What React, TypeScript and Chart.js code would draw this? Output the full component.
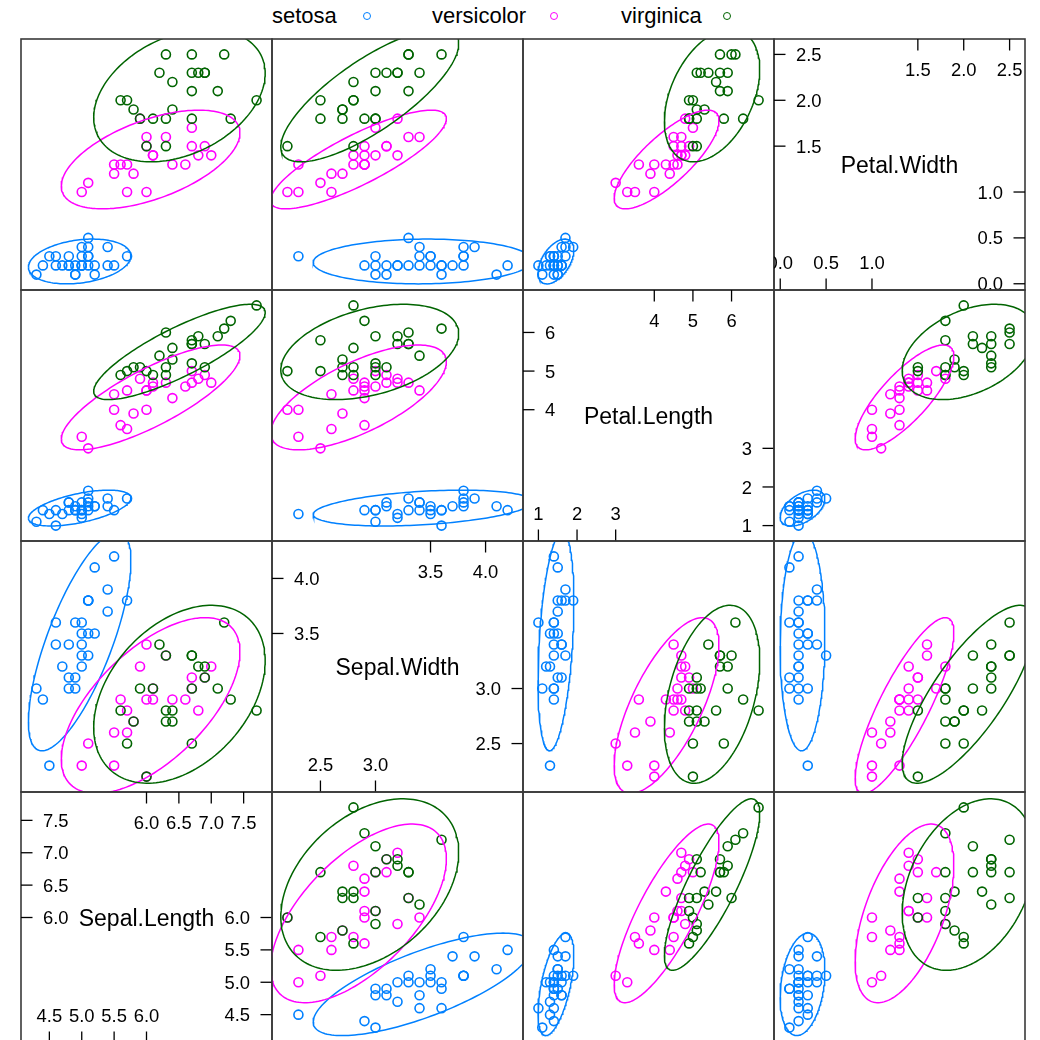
import React, { useEffect, useRef } from "react";
import { Chart, registerables } from "chart.js";

Chart.register(...registerables);

// ---------------- data ----------------
const speciesNames = ["setosa", "versicolor", "virginica"];
const speciesColors = ["#0080ff", "#ff00ff", "#006400"];
const variableNames = ["Sepal.Length", "Sepal.Width", "Petal.Length", "Petal.Width"];

const setosaSepalLength = [4.9, 4.7, 5.0, 5.4, 4.6, 4.4, 4.9, 5.4, 4.8, 4.3, 5.1, 5.7, 5.1, 4.6, 5.1, 5.0, 5.2, 4.8, 5.2, 5.5, 5.0, 4.9, 5.0, 4.5, 5.1, 4.8, 5.1, 5.0];
const setosaSepalWidth = [3.0, 3.2, 3.6, 3.9, 3.4, 2.9, 3.1, 3.7, 3.4, 3.0, 3.5, 3.8, 3.8, 3.6, 3.3, 3.4, 3.5, 3.1, 4.1, 4.2, 3.2, 3.6, 3.5, 2.3, 3.8, 3.0, 3.8, 3.3];
const setosaPetalLength = [1.4, 1.3, 1.4, 1.7, 1.4, 1.4, 1.5, 1.5, 1.6, 1.1, 1.4, 1.7, 1.5, 1.0, 1.7, 1.6, 1.5, 1.6, 1.5, 1.4, 1.2, 1.4, 1.3, 1.3, 1.9, 1.4, 1.6, 1.4];
const setosaPetalWidth = [0.2, 0.2, 0.2, 0.4, 0.3, 0.2, 0.1, 0.2, 0.2, 0.1, 0.3, 0.3, 0.3, 0.2, 0.5, 0.4, 0.2, 0.2, 0.1, 0.2, 0.2, 0.1, 0.3, 0.3, 0.4, 0.3, 0.2, 0.2];

const versicolorSepalLength = [7.0, 6.9, 5.5, 5.7, 6.3, 6.6, 6.0, 6.1, 5.6, 5.9, 6.4, 6.8, 6.7, 6.0, 5.7, 5.8, 6.0, 6.7, 5.5, 6.1, 5.0, 5.1];
const versicolorSepalWidth = [3.2, 3.1, 2.3, 2.8, 3.3, 2.9, 2.2, 2.9, 2.9, 3.2, 2.9, 2.8, 3.0, 2.9, 2.6, 2.7, 3.4, 3.1, 2.6, 3.0, 2.3, 2.5];
const versicolorPetalLength = [4.7, 4.9, 4.0, 4.5, 4.7, 4.6, 4.0, 4.7, 3.6, 4.8, 4.3, 4.8, 5.0, 4.5, 3.5, 3.9, 4.5, 4.7, 4.4, 4.6, 3.3, 3.0];
const versicolorPetalWidth = [1.4, 1.5, 1.3, 1.3, 1.6, 1.3, 1.0, 1.4, 1.3, 1.8, 1.3, 1.4, 1.7, 1.5, 1.0, 1.2, 1.6, 1.5, 1.2, 1.4, 1.0, 1.1];

const virginicaSepalLength = [6.3, 5.8, 7.1, 7.3, 6.7, 7.2, 6.4, 5.7, 6.0, 6.9, 5.6, 7.7, 6.3, 6.7, 6.1, 6.4, 6.3, 6.9, 6.8, 6.7, 6.7, 6.2, 5.9];
const virginicaSepalWidth = [3.3, 2.7, 3.0, 2.9, 2.5, 3.6, 2.7, 2.5, 2.2, 3.2, 2.8, 2.8, 2.7, 3.3, 3.0, 2.8, 2.8, 3.1, 3.2, 3.3, 3.0, 3.4, 3.0];
const virginicaPetalLength = [6.0, 5.1, 5.9, 6.3, 5.8, 6.1, 5.3, 5.0, 5.0, 5.7, 4.9, 6.7, 4.9, 5.7, 4.9, 5.6, 5.1, 5.1, 5.9, 5.7, 5.2, 5.4, 5.1];
const virginicaPetalWidth = [2.5, 1.9, 2.1, 1.8, 1.8, 2.5, 1.9, 2.0, 1.5, 2.3, 2.0, 2.0, 1.8, 2.1, 1.8, 2.2, 1.5, 2.3, 2.3, 2.5, 2.3, 2.3, 1.8];

// diagonal-panel tick labels (lower half: bottom/right, upper half: top/left)
const sepalLengthTicksLower = ["4.5", "5.0", "5.5", "6.0"];
const sepalLengthTicksUpper = ["6.0", "6.5", "7.0", "7.5"];
const sepalWidthTicksLower = ["2.5", "3.0"];
const sepalWidthTicksUpper = ["3.5", "4.0"];
const petalLengthTicksLower = ["1", "2", "3"];
const petalLengthTicksUpper = ["4", "5", "6"];
const petalWidthTicksLower = ["0.0", "0.5", "1.0"];
const petalWidthTicksUpper = ["1.5", "2.0", "2.5"];

// ---------------- derived tables ----------------
const sepalLength = [setosaSepalLength, versicolorSepalLength, virginicaSepalLength];
const sepalWidth = [setosaSepalWidth, versicolorSepalWidth, virginicaSepalWidth];
const petalLength = [setosaPetalLength, versicolorPetalLength, virginicaPetalLength];
const petalWidth = [setosaPetalWidth, versicolorPetalWidth, virginicaPetalWidth];
const variables = [sepalLength, sepalWidth, petalLength, petalWidth];
const ticksLower = [sepalLengthTicksLower, sepalWidthTicksLower, petalLengthTicksLower, petalWidthTicksLower];
const ticksUpper = [sepalLengthTicksUpper, sepalWidthTicksUpper, petalLengthTicksUpper, petalWidthTicksUpper];

const columnVars = [0, 1, 2, 3];
const rowVars = [3, 2, 1, 0];

// ---------------- layout ----------------
const PANEL = 251;
const LEFT = 21;
const TOP = 39;
const PAD = 3;
const TICK = 11.5;
const FONT = '"Liberation Sans", Arial, Helvetica, sans-serif';
const NAME_SIZE = 23;
const TICK_SIZE = 18.4;

function limits(v: number): [number, number] {
  const all = variables[v].flat();
  const mn = Math.min(...all);
  const mx = Math.max(...all);
  const p = 0.07 * (mx - mn);
  return [mn - p, mx + p];
}

function ellipsePoints(xs: number[], ys: number[]) {
  const n = xs.length;
  const mx = xs.reduce((s, v) => s + v, 0) / n;
  const my = ys.reduce((s, v) => s + v, 0) / n;
  let sxx = 0, syy = 0, sxy = 0;
  for (let i = 0; i < n; i++) {
    const dx = xs[i] - mx, dy = ys[i] - my;
    sxx += dx * dx; syy += dy * dy; sxy += dx * dy;
  }
  sxx /= n - 1; syy /= n - 1; sxy /= n - 1;
  const a = Math.sqrt(sxx);
  const b = sxy / a;
  const c = Math.sqrt(Math.max(syy - b * b, 0));
  const R = Math.sqrt(5.991464547); // 95% level
  const pts: { x: number; y: number }[] = [];
  const seg = 160;
  for (let k = 0; k <= seg; k++) {
    const t = -Math.PI + (2 * Math.PI * k) / seg;
    const u = Math.cos(t), w = Math.sin(t);
    pts.push({ x: mx + R * u * a, y: my + R * (u * b + w * c) });
  }
  return pts;
}

const borderPlugin = {
  id: "panelBorder",
  afterDraw(chart: any) {
    const { ctx, chartArea: a } = chart;
    ctx.save();
    ctx.strokeStyle = "#3a3a3a";
    ctx.lineWidth = 1.6;
    ctx.strokeRect(a.left, a.top, a.right - a.left, a.bottom - a.top);
    ctx.restore();
  },
};

function diagPlugin(v: number) {
  return {
    id: "diagLabels",
    afterDraw(chart: any) {
      const { ctx, chartArea: a, scales } = chart;
      const xs = scales.x, ys = scales.y;
      ctx.save();
      ctx.beginPath();
      ctx.rect(a.left, a.top, a.right - a.left, a.bottom - a.top);
      ctx.clip();
      ctx.fillStyle = "#000";
      ctx.strokeStyle = "#000";
      ctx.lineWidth = 1.3;
      ctx.textBaseline = "alphabetic";
      ctx.font = `${NAME_SIZE}px ${FONT}`;
      ctx.textAlign = "center";
      ctx.fillText(variableNames[v], (a.left + a.right) / 2, (a.top + a.bottom) / 2 + NAME_SIZE * 0.36);
      ctx.font = `${TICK_SIZE}px ${FONT}`;
      const half = TICK_SIZE * 0.358;
      const line = (x1: number, y1: number, x2: number, y2: number) => {
        ctx.beginPath(); ctx.moveTo(x1, y1); ctx.lineTo(x2, y2); ctx.stroke();
      };
      for (const t of ticksLower[v]) {
        const val = parseFloat(t);
        const px = xs.getPixelForValue(val);
        const py = ys.getPixelForValue(val);
        line(px, a.bottom, px, a.bottom - TICK);
        ctx.textAlign = "center";
        ctx.fillText(t, px, a.bottom - 28 + half);
        line(a.right, py, a.right - TICK, py);
        ctx.textAlign = "right";
        ctx.fillText(t, a.right - 22, py + half);
      }
      for (const t of ticksUpper[v]) {
        const val = parseFloat(t);
        const px = xs.getPixelForValue(val);
        const py = ys.getPixelForValue(val);
        line(px, a.top, px, a.top + TICK);
        ctx.textAlign = "center";
        ctx.fillText(t, px, a.top + 30 + half);
        line(a.left, py, a.left + TICK, py);
        ctx.textAlign = "left";
        ctx.fillText(t, a.left + 22, py + half);
      }
      ctx.restore();
    },
  };
}

function Panel({ row, col }: { row: number; col: number }) {
  const ref = useRef<HTMLCanvasElement>(null);
  const xv = columnVars[col];
  const yv = rowVars[row];
  const size = PANEL + 2 * PAD;
  useEffect(() => {
    if (!ref.current) return;
    const diag = xv === yv;
    const datasets: any[] = [];
    if (!diag) {
      for (let s = 0; s < speciesNames.length; s++) {
        const xs = variables[xv][s];
        const ys = variables[yv][s];
        datasets.push({
          label: speciesNames[s] + " ellipse",
          data: ellipsePoints(xs, ys),
          showLine: true,
          borderColor: speciesColors[s],
          borderWidth: 1.5,
          pointRadius: 0,
          fill: false,
          tension: 0,
          clip: 0,
          order: 2 - s,
        });
        datasets.push({
          label: speciesNames[s],
          data: xs.map((x, i) => ({ x, y: ys[i] })),
          showLine: false,
          pointStyle: "circle",
          pointRadius: 4.5,
          pointBorderWidth: 1.6,
          borderWidth: 1.6,
          borderColor: speciesColors[s],
          backgroundColor: "rgba(0,0,0,0)",
          pointBackgroundColor: "rgba(0,0,0,0)",
          clip: 0,
          order: 5 - s,
        });
      }
    }
    const [x0, x1] = limits(xv);
    const [y0, y1] = limits(yv);
    const plugins: any[] = [borderPlugin];
    if (diag) plugins.push(diagPlugin(xv));
    const chart = new Chart(ref.current, {
      type: "scatter",
      data: { datasets },
      options: {
        animation: false,
        responsive: false,
        maintainAspectRatio: false,
        devicePixelRatio: 1,
        events: [],
        layout: { padding: PAD, autoPadding: false },
        plugins: { legend: { display: false }, tooltip: { enabled: false } },
        scales: {
          x: { type: "linear", display: false, min: x0, max: x1 },
          y: { type: "linear", display: false, min: y0, max: y1 },
        },
      } as any,
      plugins,
    });
    return () => chart.destroy();
  }, [xv, yv]);
  return (
    <canvas
      ref={ref}
      width={size}
      height={size}
      style={{
        position: "absolute",
        left: LEFT + col * PANEL - PAD,
        top: TOP + row * PANEL - PAD,
        width: size,
        height: size,
      }}
    />
  );
}

const legendTextLeft = [272, 432, 621];
const legendSymbolX = [366.7, 554, 727];

export default function App() {
  const panels = [];
  for (let r = 0; r < 4; r++) for (let c = 0; c < 4; c++) panels.push(<Panel key={`${r}-${c}`} row={r} col={c} />);
  return (
    <div
      style={{
        position: "absolute",
        left: 0,
        top: 0,
        width: 1040,
        height: 1040,
        overflow: "hidden",
        background: "#fff",
        fontFamily: FONT,
      }}
    >
      {speciesNames.map((s, i) => (
        <React.Fragment key={s}>
          <span
            style={{
              position: "absolute",
              left: legendTextLeft[i],
              top: 5,
              fontSize: 22,
              lineHeight: "22px",
              color: "#000",
              whiteSpace: "nowrap",
            }}
          >
            {s}
          </span>
          <div
            style={{
              position: "absolute",
              left: legendSymbolX[i] - 4,
              top: 16 - 4,
              width: 8,
              height: 8,
              boxSizing: "border-box",
              border: `1.4px solid ${speciesColors[i]}`,
              borderRadius: "50%",
            }}
          />
        </React.Fragment>
      ))}
      {panels}
    </div>
  );
}
